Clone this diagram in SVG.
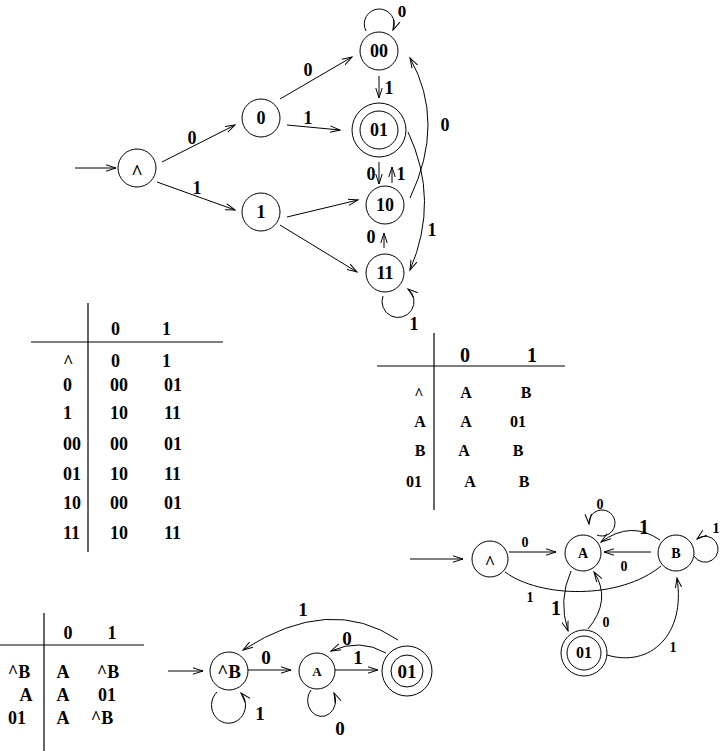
<svg xmlns="http://www.w3.org/2000/svg" width="720" height="751" viewBox="0 0 720 751">
<defs>
<marker id="ah" markerWidth="12" markerHeight="8" refX="10" refY="4" orient="auto" markerUnits="userSpaceOnUse"><path d="M0,0.8 L10,4 L0,7.2" fill="none" stroke="#000" stroke-width="1"/></marker>
<style>
text{font-family:"Liberation Serif","Times New Roman",serif;font-weight:bold;fill:#000;text-anchor:middle}
.n{fill:none;stroke:#000;stroke-width:1}
.e{fill:none;stroke:#000;stroke-width:1;marker-end:url(#ah)}
.p{fill:none;stroke:#000;stroke-width:1}
.t18{font-size:18px}
.t17{font-size:17px}
.t14{font-size:14px}
.t16{font-size:16px}
.t20{font-size:20px}
.t13{font-size:13px}
.t19{font-size:19px}
.s{text-anchor:start}
.l{stroke:#000;stroke-width:1.2}
</style>
</defs>
<rect width="720" height="751" fill="#fff"/>

<!-- ===== Top diagram ===== -->
<g id="top-connectors">
<path class="e" d="M75,168 L116,168"/>
<path class="e" d="M162,162 L235,125"/>
<path class="e" d="M157,182 L235,210"/>
<path class="e" d="M280,99 L352,57"/>
<path class="e" d="M287,125 L340,130"/>
<path class="e" d="M379,76 L379,98"/>
<path class="e" d="M287,217 L358,200"/>
<path class="e" d="M280,225 L357,272"/>
<path class="e" d="M379,162 L379,184"/>
<path class="e" d="M392,183 L392,167"/>
<path class="e" d="M384,248 L384,233"/>
<path class="e" d="M410,198 Q446,122 410,58"/>
<path class="e" d="M408,132 Q440,200 410,270"/>
<path class="e" d="M366,31 A15,15 0 1 1 393,30"/>
<path class="e" d="M383,296 A16,16 0 1 0 408,289"/>
<text class="t18" x="192" y="144">0</text>
<text class="t18" x="197" y="194">1</text>
<text class="t18" x="308" y="76">0</text>
<text class="t18" x="308" y="124">1</text>
<text class="t18" x="389" y="94">1</text>
<text class="t18" x="371" y="180">0</text>
<text class="t18" x="401" y="180">1</text>
<text class="t18" x="371" y="243">0</text>
<text class="t18" x="445" y="131">0</text>
<text class="t18" x="432" y="236">1</text>
<text class="t17" x="402" y="17">0</text>
<text class="t18" x="414" y="330">1</text>
</g>
<g id="node-caret"><circle class="n" cx="137" cy="168" r="19"/><text class="t20" x="137" y="179">^</text></g>
<g id="node-0"><circle class="n" cx="261" cy="118" r="19"/><text class="t18" x="261" y="124">0</text></g>
<g id="node-1"><circle class="n" cx="261" cy="212" r="19"/><text class="t18" x="261" y="218">1</text></g>
<g id="node-00"><circle class="n" cx="379" cy="51" r="19"/><text class="t18" x="379" y="57">00</text></g>
<g id="node-01"><circle class="n" cx="379" cy="130" r="27"/><circle class="n" cx="379" cy="130" r="19"/><text class="t18" x="379" y="136">01</text></g>
<g id="node-10"><circle class="n" cx="385" cy="205" r="19"/><text class="t18" x="385" y="211">10</text></g>
<g id="node-11"><circle class="n" cx="385" cy="273" r="19"/><text class="t18" x="385" y="279">11</text></g>

<!-- ===== Table 1 ===== -->
<g id="table-1">
<line class="l" x1="88" y1="303" x2="88" y2="552"/>
<line class="l" x1="31" y1="342" x2="223" y2="342"/>
<text class="t18 s" x="111" y="335">0</text><text class="t18 s" x="162" y="335">1</text>
<text class="t18 s" x="63" y="368">^</text><text class="t18 s" x="111" y="367">0</text><text class="t18 s" x="162" y="367">1</text>
<text class="t18 s" x="63" y="391">0</text><text class="t18 s" x="110" y="391">00</text><text class="t18 s" x="164" y="391">01</text>
<text class="t18 s" x="63" y="419">1</text><text class="t18 s" x="110" y="419">10</text><text class="t18 s" x="164" y="419">11</text>
<text class="t18 s" x="63" y="450">00</text><text class="t18 s" x="110" y="450">00</text><text class="t18 s" x="164" y="450">01</text>
<text class="t18 s" x="63" y="480">01</text><text class="t18 s" x="110" y="480">10</text><text class="t18 s" x="164" y="480">11</text>
<text class="t18 s" x="63" y="509">10</text><text class="t18 s" x="110" y="509">00</text><text class="t18 s" x="164" y="509">01</text>
<text class="t18 s" x="63" y="539">11</text><text class="t18 s" x="110" y="539">10</text><text class="t18 s" x="164" y="539">11</text>
</g>

<!-- ===== Table 2 ===== -->
<g id="table-2">
<line class="l" x1="434" y1="333" x2="434" y2="510"/>
<line class="l" x1="377" y1="366" x2="565" y2="366"/>
<text class="t20" x="465" y="362">0</text><text class="t20" x="532" y="362">1</text>
<text class="t16" x="419" y="399">^</text><text class="t16" x="466" y="398">A</text><text class="t16" x="526" y="398">B</text>
<text class="t16" x="420" y="427">A</text><text class="t16" x="466" y="427">A</text><text class="t16" x="518" y="427">01</text>
<text class="t16" x="420" y="456">B</text><text class="t16" x="464" y="456">A</text><text class="t16" x="518" y="456">B</text>
<text class="t16" x="414" y="487">01</text><text class="t16" x="470" y="487">A</text><text class="t16" x="524" y="487">B</text>
</g>

<!-- ===== Bottom-right diagram ===== -->
<g id="br-connectors">
<path class="e" d="M410,559 L463,559"/>
<path class="e" d="M509,552 L556,552"/>
<path class="e" d="M651,552 L604,552"/>
<path class="e" d="M660,540 Q631,520 601,542"/>
<path class="e" d="M597,535 A13,13 0 1 0 589,524"/>
<path class="e" d="M694,556 A13,13 0 1 0 697,539"/>
<path class="p" d="M505,572 C540,598 620,600 661,566"/>
<path class="e" d="M571,571 Q558,600 568,631"/>
<path class="e" d="M588,629 Q612,600 594,572"/>
<path class="e" d="M607,655 C650,668 686,635 677,578"/>
<text class="t14" x="525" y="547">0</text>
<text class="t14" x="624" y="571">0</text>
<text class="t20" x="644" y="534">1</text>
<text class="t14" x="600" y="509">0</text>
<text class="t14" x="716" y="533">1</text>
<text class="t14" x="530" y="602">1</text>
<text class="t20" x="556" y="615">1</text>
<text class="t14" x="606" y="627">0</text>
<text class="t14" x="673" y="652">1</text>
</g>
<g id="br-node-caret"><circle class="n" cx="490" cy="559" r="18"/><text class="t18" x="490" y="569">^</text></g>
<g id="br-node-A"><circle class="n" cx="583" cy="553" r="18"/><text class="t14" x="583" y="558">A</text></g>
<g id="br-node-B"><circle class="n" cx="676" cy="553" r="18"/><text class="t14" x="676" y="558">B</text></g>
<g id="br-node-01"><circle class="n" cx="584" cy="653" r="23"/><circle class="n" cx="584" cy="653" r="17"/><text class="t16" x="584" y="658">01</text></g>

<!-- ===== Table 3 ===== -->
<g id="table-3">
<line class="l" x1="44" y1="613" x2="44" y2="751"/>
<line class="l" x1="0" y1="645" x2="144" y2="645"/>
<text class="t18" x="68" y="639">0</text><text class="t18" x="112" y="639">1</text>
<text class="t18" x="19" y="678">^B</text><text class="t18" x="63" y="678">A</text><text class="t18" x="108" y="678">^B</text>
<text class="t18" x="26" y="701">A</text><text class="t18" x="63" y="701">A</text><text class="t18" x="107" y="701">01</text>
<text class="t18" x="17" y="724">01</text><text class="t18" x="63" y="724">A</text><text class="t18" x="102" y="724">^B</text>
</g>

<!-- ===== Bottom-left diagram ===== -->
<g id="bl-connectors">
<path class="e" d="M168,671 L203,671"/>
<path class="e" d="M248,670 L291,670"/>
<path class="e" d="M335,670 L378,670"/>
<path class="e" d="M386,653 Q360,638 331,651"/>
<path class="e" d="M398,640 Q330,594 243,650"/>
<path class="e" d="M217,692 A17,18 0 1 0 241,693"/>
<path class="e" d="M311,690 A14,16 0 1 0 334,693"/>
<text class="t19" x="266" y="664">0</text>
<text class="t19" x="358" y="664">1</text>
<text class="t19" x="347" y="645">0</text>
<text class="t19" x="303" y="616">1</text>
<text class="t19" x="260" y="720">1</text>
<text class="t19" x="340" y="735">0</text>
</g>
<g id="bl-node-caretB"><circle class="n" cx="229" cy="671" r="19"/><text class="t19" x="229" y="678">^B</text></g>
<g id="bl-node-A"><circle class="n" cx="317" cy="671" r="18"/><text class="t13" x="317" y="676">A</text></g>
<g id="bl-node-01"><circle class="n" cx="407" cy="671" r="25"/><circle class="n" cx="407" cy="671" r="16"/><text class="t19" x="407" y="678">01</text></g>
</svg>
